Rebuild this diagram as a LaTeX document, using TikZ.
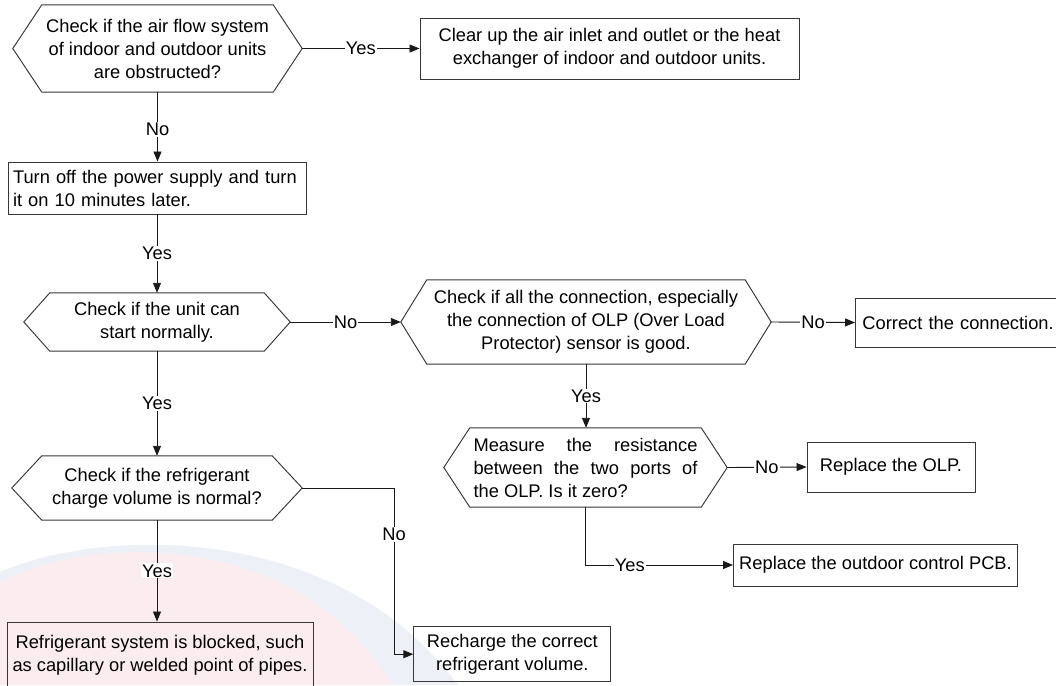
\documentclass[tikz,border=0pt]{standalone}
\usepackage{fontspec}
\setmainfont{Liberation Sans}
\usetikzlibrary{arrows.meta}
\definecolor{wmpink}{RGB}{251,237,239}
\definecolor{wmblue}{RGB}{238,240,247}
\definecolor{edge}{RGB}{55,55,55}
\newcommand\hexdraw[2]{\draw[hexline] (#1.west) -- ([xshift=#2pt]#1.north west) -- ([xshift=-#2pt]#1.north east) -- (#1.east) -- ([xshift=-#2pt]#1.south east) -- ([xshift=#2pt]#1.south west) -- cycle;}
\begin{document}
\begin{tikzpicture}[x=1pt,y=-1pt,
  txt/.style={font=\fontsize{18.3}{23}\selectfont},
  box/.style={txt, draw=edge, line width=0.95pt, inner sep=0pt, align=center},
  hexin/.style={txt, inner sep=0pt, align=center},
  hexline/.style={draw=edge, line width=0.95pt},
  conn/.style={line width=0.9pt, draw=black!90},
  arr/.style={conn, -{Triangle[length=10pt,width=8pt]}},
  lab/.style={txt, fill=white, inner sep=1pt}]
\useasboundingbox (0,0) rectangle (1056,685);
\clip (0,0) rectangle (1056,685);
\fill[white] (0,0) rectangle (1056,685);
% faint watermark
\fill[wmblue] (0,685) -- (0,572) .. controls (110,525) and (340,525) .. (458,685) -- cycle;
\fill[wmpink] (0,685) -- (0,582) .. controls (100,532) and (300,532) .. (392,685) -- cycle;

\node[hexin, minimum width=289pt, minimum height=87pt] (h1) at (157.5,48.5) {Check if the air flow system\\of indoor and outdoor units\\are obstructed?};
\hexdraw{h1}{29}
\node[box, minimum width=379pt, minimum height=61pt] (b1) at (609.5,48.5) {Clear up the air inlet and outlet or the heat\\exchanger of indoor and outdoor units.};
\node[box, minimum width=298pt, minimum height=52pt, text width=288pt, align=left] (b2) at (157,188) {Turn off the power supply and turn\\it on 10 minutes later.};
\node[hexin, minimum width=266pt, minimum height=58pt] (h3) at (157,322) {Check if the unit can\\start normally.};
\hexdraw{h3}{26}
\node[hexin, minimum width=370pt, minimum height=84pt] (h4) at (586,322) {Check if all the connection, especially\\the connection of OLP (Over Load\\Protector) sensor is good.};
\hexdraw{h4}{26}
\node[box, anchor=west, minimum width=210pt, minimum height=49pt, text width=196pt, align=left] (b5) at (855,322.5) {Correct the connection.};
\node[hexin, minimum width=283pt, minimum height=79pt] (h6) at (585.5,467.5) {\makebox[224pt][s]{Measure the resistance}\\\makebox[224pt][s]{between the two ports of}\\\makebox[224pt][l]{the OLP. Is it zero?}};
\hexdraw{h6}{26}
\node[box, minimum width=168pt, minimum height=50pt] (b7) at (891,467) {Replace the OLP.};
\node[box, minimum width=284pt, minimum height=42pt] (b8) at (875.5,565) {Replace the outdoor control PCB.};
\node[hexin, minimum width=290pt, minimum height=64pt] (h9) at (157,488) {Check if the refrigerant\\charge volume is normal?};
\hexdraw{h9}{30}
\node[box, minimum width=306pt, minimum height=67pt] (b10) at (160,655.5) {Refrigerant system is blocked, such\\as capillary or welded point of pipes.};
\node[box, minimum width=197pt, minimum height=55pt] (b11) at (512.3,654.2) {Recharge the correct\\refrigerant volume.};
\coordinate (k) at (394,0);

\draw[arr] (h1.east) -- node[lab]{Yes} (b1.west);
\draw[arr] (h1.south) -- node[lab,pos=0.54]{No} (h1.south |- b2.north);
\draw[arr] (b2.south) -- node[lab]{Yes} (b2.south |- h3.north);
\draw[arr] (h3.east) -- node[lab]{No} (h4.west);
\draw[arr] (h4.east) -- node[lab]{No} (b5.west);
\draw[arr] (h4.south) -- node[lab]{Yes} (h4.south |- h6.north);
\draw[arr] (h6.east) -- node[lab]{No} (b7.west);
\draw[arr] (h6.south) |- node[lab,pos=0.65]{Yes} (b8.west);
\draw[arr] (h3.south) -- node[lab]{Yes} (h3.south |- h9.north);
\draw[arr] (h9.south) -- node[lab]{Yes} (h9.south |- b10.north);
\draw[arr] (h9.east) -| node[lab,pos=0.64]{No} (k |- b11.west) -- (b11.west);
\end{tikzpicture}
\end{document}
